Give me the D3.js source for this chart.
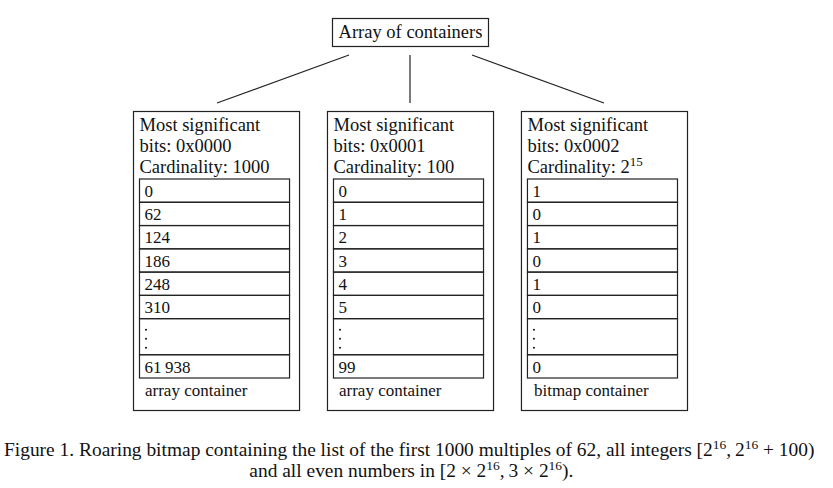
<!DOCTYPE html>
<html>
<head>
<meta charset="utf-8">
<script src="https://cdn.jsdelivr.net/npm/d3@7"></script>
<style>
  body { margin: 0; background: #fff; }
  svg { display: block; }
  text { font-family: "Liberation Serif", "Times New Roman", serif; fill: #111; }
</style>
</head>
<body>
<div id="fig"></div>
<script>
// Data we want to show
const rootLabel = "Array of containers";
const keyBits = ["0x0000", "0x0001", "0x0002"];
const cardinalities = [["1000", ""], ["100", ""], ["2", "15"]];
const containerTypes = ["array container", "array container", "bitmap container"];
const cellValues = [
  ["0", "62", "124", "186", "248", "310", "...", "61\u2009938"],
  ["0", "1", "2", "3", "4", "5", "...", "99"],
  ["1", "0", "1", "0", "1", "0", "...", "0"]
];
// relative height of every row (the dots row is taller)
const rowUnits = [1, 1, 1, 1, 1, 1, 1.55, 1];

// Create SVG element that holds the figure
const width = 833;
const height = 488;

const svg = d3.select('#fig')
  .append('svg')
  .attr('width', width)
  .attr('height', height)
  .attr('viewBox', [0, 0, width, height]);

// Scales for the containers and the rows
const x = d3.scaleBand()
  .domain(d3.range(keyBits.length))
  .range([133, 687])
  .paddingInner(0.144)
  .paddingOuter(0);

const rowStart = d3.cumsum([0].concat(rowUnits));
const y = d3.scaleLinear()
  .domain([0, d3.sum(rowUnits)])
  .range([179, 378]);

const stroke = "#222";
const headSize = 18.5;
const cellSize = 17;

// top box
const rootBox = svg.append("g");
rootBox.append("rect")
  .attr("x", 332.5).attr("y", 18.5)
  .attr("width", 156).attr("height", 28)
  .attr("fill", "none").attr("stroke", stroke).attr("stroke-width", 1.2);
rootBox.append("text")
  .attr("x", 410.5).attr("y", 37.5)
  .attr("text-anchor", "middle")
  .attr("font-size", headSize)
  .text(rootLabel);

// connector lines
const lineEnds = [[349, 217], [410, 410], [472, 604]];
svg.append("g")
  .selectAll("line")
  .data(lineEnds)
  .join("line")
  .attr("x1", d => d[0]).attr("y1", 55)
  .attr("x2", d => d[1]).attr("y2", 103)
  .attr("stroke", stroke).attr("stroke-width", 1.2);

// containers
const cont = svg.append("g")
  .selectAll("g")
  .data(d3.range(keyBits.length))
  .join("g")
  .attr("transform", i => `translate(${x(i)},0)`);

cont.append("rect")
  .attr("x", 0.5).attr("y", 111.5)
  .attr("width", x.bandwidth()).attr("height", 299)
  .attr("fill", "none").attr("stroke", stroke).attr("stroke-width", 1.2);

cont.append("text")
  .attr("x", 6.5).attr("y", 130.5)
  .attr("font-size", headSize)
  .text("Most significant");

cont.append("text")
  .attr("x", 6.5).attr("y", 151.5)
  .attr("font-size", headSize)
  .text(i => "bits: " + keyBits[i]);

const card = cont.append("text")
  .attr("x", 6.5).attr("y", 173)
  .attr("font-size", headSize);
card.append("tspan").text(i => "Cardinality: " + cardinalities[i][0]);
card.append("tspan")
  .attr("font-size", 13)
  .attr("dy", -7)
  .text(i => cardinalities[i][1]);

// cells
const cellX = 6.5;
const cellW = x.bandwidth() - 16;

cont.each(function(i) {
  const g = d3.select(this);
  const rows = g.selectAll("g.cell")
    .data(cellValues[i].map((v, r) => ({v, r})))
    .join("g")
    .attr("class", "cell");

  rows.append("rect")
    .attr("x", cellX)
    .attr("y", d => y(rowStart[d.r]))
    .attr("width", cellW)
    .attr("height", d => y(rowStart[d.r + 1]) - y(rowStart[d.r]))
    .attr("fill", "none")
    .attr("stroke", stroke)
    .attr("stroke-width", 1.2);

  rows.filter(d => d.v !== "...")
    .append("text")
    .attr("x", cellX + 5)
    .attr("y", d => y(rowStart[d.r + 1]) - 5.5)
    .attr("font-size", cellSize)
    .text(d => d.v);

  // vertical dots
  rows.filter(d => d.v === "...")
    .selectAll("circle")
    .data(d => [0, 1, 2].map(k => ({r: d.r, k})))
    .join("circle")
    .attr("cx", cellX + 6.5)
    .attr("cy", d => y(rowStart[d.r]) + 11 + d.k * 9)
    .attr("r", 1)
    .attr("fill", "#111");

  g.append("text")
    .attr("x", i === 2 ? 13 : 12)
    .attr("y", 396)
    .attr("font-size", cellSize)
    .text(containerTypes[i]);
});

// caption
const cap = svg.append("g");
const line1 = cap.append("text")
  .attr("x", 0).attr("y", 456)
  .attr("font-size", 18);
line1.append("tspan").text("Figure 1. Roaring bitmap containing the list of the first 1000 multiples of 62, all integers [2");
line1.append("tspan").attr("font-size", 12.5).attr("dy", -7).text("16");
line1.append("tspan").attr("dy", 7).text(",\u20092");
line1.append("tspan").attr("font-size", 12.5).attr("dy", -7).text("16");
line1.append("tspan").attr("dy", 7).text(" + 100)");

const line2 = cap.append("text")
  .attr("x", 0).attr("y", 477)
  .attr("font-size", 18);
line2.append("tspan").text("and all even numbers in [2 \u00d7 2");
line2.append("tspan").attr("font-size", 12.5).attr("dy", -7).text("16");
line2.append("tspan").attr("dy", 7).text(",\u20093 \u00d7 2");
line2.append("tspan").attr("font-size", 12.5).attr("dy", -7).text("16");
line2.append("tspan").attr("dy", 7).text(").");

// squeeze the caption horizontally like the original
function fit(t, left, right) {
  const b = t.node().getBBox();
  const sx = (right - left) / b.width;
  t.attr("transform", `translate(${left - b.x * sx},0) scale(${sx},1)`);
  return sx;
}
const sx = fit(line1, 4, 815);
const b2 = line2.node().getBBox();
const w2 = b2.width * sx;
const c2 = 411.5;
line2.attr("transform", `translate(${c2 - w2 / 2 - b2.x * sx},0) scale(${sx},1)`);
</script>
</body>
</html>
